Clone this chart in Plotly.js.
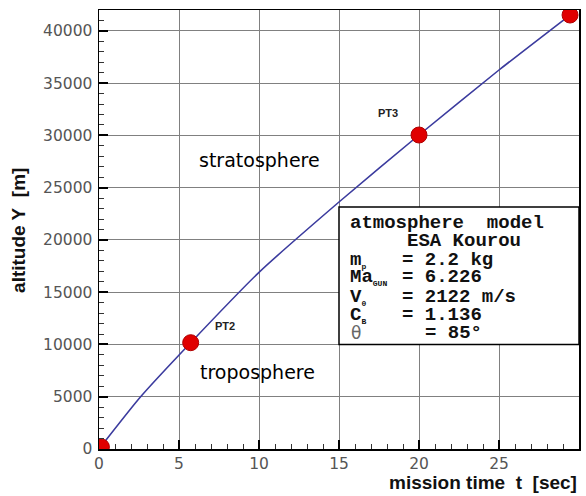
<!DOCTYPE html>
<html>
<head>
<meta charset="utf-8">
<script src="https://cdn.plot.ly/plotly-3.0.1.min.js"></script>
<style>
html,body{margin:0;padding:0;background:#fff;}
#chart{width:586px;height:496px;}
</style>
</head>
<body>
<div id="chart"></div>
<script>
// trajectory
const missionTime = [0, 2.6, 5.73, 10, 15, 20, 25, 29.44];
const altitude = [0, 5000, 10170, 16900, 23630, 30040, 36260, 41520];
// marked points
const pointTime = [0.15, 5.73, 20, 29.44];
const pointAlt = [200, 10170, 30040, 41520];
const pointNames = ["PT1", "PT2", "PT3", ""];
// tick labels
const xTicks = [0, 5, 10, 15, 20, 25, 30];
const yTicks = [0, 5000, 10000, 15000, 20000, 25000, 30000, 35000, 40000];
// info box text
const boxLabels = ["m<sub><span style='font-size:8px'>p</span></sub>",
  "Ma<sub><span style='font-size:8px'>GUN</span></sub>",
  "V<sub><span style='font-size:8px'>0</span></sub>",
  "C<sub><span style='font-size:8px'>B</span></sub>"];
const boxValues = ["= 2.2 kg", "= 6.226", "= 2122 m/s", "= 1.136"];
const thetaValue = "= 85°";

const traces = [
  {x: missionTime, y: altitude, type: 'scatter', mode: 'lines',
   line: {color: '#3b3b9e', width: 1.6, shape: 'spline', smoothing: 0.6},
   hoverinfo: 'skip', cliponaxis: true},
  {x: pointTime, y: pointAlt, type: 'scatter', mode: 'markers',
   marker: {color: '#e00000', size: 16, line: {color: '#b00000', width: 1}},
   hoverinfo: 'skip', cliponaxis: true}
];

const annFont = {family: 'Liberation Sans, Arial, sans-serif', size: 11, color: '#222', weight: 'bold'};
const mono = {family: 'Liberation Mono, Courier New, monospace', size: 19, color: '#111', weight: 'bold'};
const annotations = [
  {x: 10.06, y: 27650, text: 'stratosphere', font: {family: 'DejaVu Sans', size: 19, color: '#000'}},
  {x: 9.9, y: 7400, text: 'troposphere', font: {family: 'DejaVu Sans', size: 19, color: '#000'}},
  {x: 1.5, y: -860, text: pointNames[0], font: annFont},
  {x: 7.9, y: 11770, text: pointNames[1], font: annFont},
  {x: 18.06, y: 32150, text: pointNames[2], font: annFont},
  {x: 15.56, y: 21650, text: 'atmosphere\u00a0\u00a0model', font: mono, xanchor: 'left'},
  {x: 19.12, y: 19930, text: 'ESA Kourou', font: mono, xanchor: 'left'},
  {x: 15.6, y: 11100, text: 'θ', font: {family: 'DejaVu Sans', size: 17, color: '#666'}, xanchor: 'left'},
  {x: 20.25, y: 11100, text: thetaValue, font: mono, xanchor: 'left'},
  {xref: 'paper', yref: 'paper', x: 1, y: -0.0774, xanchor: 'right', yanchor: 'middle',
   text: 'mission time\u00a0\u00a0t\u00a0\u00a0[sec]',
   font: {family: 'Liberation Sans, Arial', size: 19, color: '#111', weight: 'bold'}},
  {xref: 'paper', yref: 'paper', x: -0.1667, y: 0.499, xanchor: 'center', yanchor: 'middle', textangle: -90,
   text: 'altitude Y\u00a0\u00a0[m]',
   font: {family: 'Liberation Sans, Arial', size: 19, color: '#111', weight: 'bold'}}
];
const lineY = [18080, 16460, 14570, 12820];
boxLabels.forEach((t, i) => {
  annotations.push({x: 15.56, y: lineY[i], text: t, font: mono, xanchor: 'left'});
  annotations.push({x: 18.81, y: lineY[i], text: boxValues[i], font: mono, xanchor: 'left'});
});
annotations.forEach(a => { a.showarrow = false; if (!a.xref) { a.xref = 'x'; a.yref = 'y'; } if (!a.yanchor) a.yanchor = 'middle'; });

const layout = {
  width: 586, height: 496,
  margin: {l: 99, r: 7, t: 10, b: 47, pad: 0},
  paper_bgcolor: '#fff', plot_bgcolor: '#fff',
  showlegend: false,
  xaxis: {range: [0, 30], tickvals: xTicks, ticktext: xTicks.map(String),
    showgrid: true, gridcolor: '#808080', gridwidth: 1, zeroline: false,
    showline: true, linecolor: '#000', linewidth: 1.5, mirror: true,
    ticks: 'inside', ticklen: 9, tickwidth: 2, tickcolor: '#000',
    minor: {dtick: 1, ticks: 'inside', ticklen: 5, tickwidth: 1, tickcolor: '#333', showgrid: false},
    tickfont: {family: 'DejaVu Sans', size: 15.5, color: '#555'}, fixedrange: true},
  yaxis: {range: [0, 42000], tickvals: yTicks, ticktext: yTicks.map(String),
    showgrid: true, gridcolor: '#808080', gridwidth: 1, zeroline: false,
    showline: true, linecolor: '#000', linewidth: 1.5, mirror: true,
    ticks: 'inside', ticklen: 9, tickwidth: 2, tickcolor: '#000',
    minor: {dtick: 1000, ticks: 'inside', ticklen: 5, tickwidth: 1, tickcolor: '#333', showgrid: false},
    ticklabelstandoff: 2,
    tickfont: {family: 'DejaVu Sans', size: 15.5, color: '#555'}, fixedrange: true},
  shapes: [{type: 'rect', xref: 'x', yref: 'y', x0: 15, x1: 30, y0: 10000, y1: 23150,
    fillcolor: '#fff', line: {color: '#000', width: 1.5}, layer: 'between'}],
  annotations: annotations
};
Plotly.newPlot('chart', traces, layout, {staticPlot: true});
</script>
</body>
</html>
